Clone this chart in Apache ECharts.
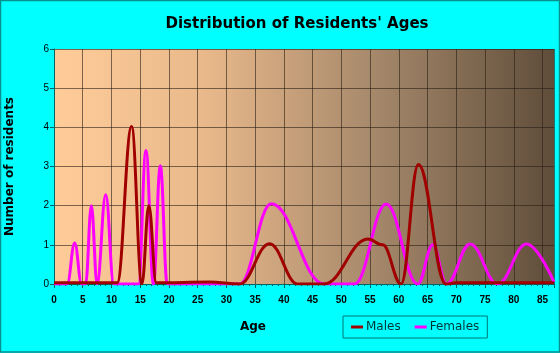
<!DOCTYPE html>
<html>
<head>
<meta charset="utf-8">
<script src="https://cdn.jsdelivr.net/npm/echarts@6/dist/echarts.min.js"></script>
<style>
  html, body { margin: 0; padding: 0; background: #00ffff; }
  #chart { width: 560px; height: 353px; }
</style>
</head>
<body>
<div id="chart"></div>
<script>
// age, residents  (peaks and troughs)
var males = [
    [0, 0.03], [11, 0.03], [13.5, 4.02], [15.3, 0], [16.5, 2.0], [17.8, 0.03],
    [27, 0.05], [32.3, 0], [37.5, 1.03], [42.4, 0], [47, 0], [54.6, 1.15],
    [57.2, 1.0], [60.4, 0], [63.4, 3.05], [68.2, 0], [70, 0.03], [87, 0.03]
]
var females = [
    [0, 0], [2.3, 0], [3.6, 1.05], [4.8, 0], [5.5, 0], [6.5, 2.0], [7.5, 0],
    [9.0, 2.28], [10.4, 0], [14.7, 0], [16.0, 3.41], [17.3, 0], [18.5, 3.02],
    [19.7, 0], [32.3, 0], [37.8, 2.05], [47, 0], [52.3, 0], [57.8, 2.04],
    [63.3, 0], [65.9, 1.0], [68.3, 0], [72.4, 1.02], [77.2, 0], [82.2, 1.02],
    [87, 0.05]
]
var seriesNames = ['Males', 'Females']

var Chart = echarts.init(document.getElementById('chart'))
var option = {
    backgroundColor: '#00ffff',
    animation: false,
    title: [
        {
            text: "Distribution of Residents' Ages",
            left: 292,
            top: 12,
            textAlign: 'center',
            textStyle: { fontFamily: 'DejaVu Sans', fontSize: 15, fontWeight: 'bold', color: '#000' }
        },
        {
            text: 'Age',
            left: 248,
            top: 316,
            textAlign: 'center',
            textStyle: { fontFamily: 'DejaVu Sans', fontSize: 12, fontWeight: 'bold', color: '#000' }
        }
    ],
    graphic: [{
        type: 'rect',
        shape: { x: 0.5, y: 0.5, width: 559, height: 351.5 },
        style: { fill: 'none', stroke: '#0a8f8f', lineWidth: 1.5 },
        silent: true
    }],
    grid: {
        left: 54,
        right: 6,
        top: 49,
        bottom: 69,
        outerBoundsMode: 'none',
        show: true,
        borderWidth: 0,
        backgroundColor: {
            type: 'linear', x: 0, y: 0, x2: 1, y2: 0,
            colorStops: [
                { offset: 0, color: '#ffcc99' },
                { offset: 0.3, color: '#e9b98b' },
                { offset: 0.65, color: '#a4876a' },
                { offset: 1, color: '#5f4d3a' }
            ]
        }
    },
    legend: {
        data: seriesNames,
        left: 343,
        top: 316,
        width: 144,
        height: 23,
        padding: [5, 8, 5, 8],
        borderColor: '#007777',
        borderWidth: 1,
        icon: 'rect',
        itemWidth: 12,
        itemHeight: 3,
        itemGap: 14,
        textStyle: { fontFamily: 'DejaVu Sans', fontSize: 12, color: '#003333', padding: [0, 0, 0, -2] }
    },
    xAxis: {
        type: 'value',
        min: 0,
        max: 87,
        interval: 5,
        axisLine: { show: true, lineStyle: { color: '#006666' } },
        axisTick: { show: true, length: 4, lineStyle: { color: '#006666' } },
        minorTick: { show: true, splitNumber: 5, length: 2, lineStyle: { color: '#006666' } },
        axisLabel: {
            fontFamily: 'Liberation Sans', fontSize: 10, fontWeight: 'bold', color: '#000',
            margin: 11, showMaxLabel: false
        },
        splitLine: { show: true, lineStyle: { color: 'rgba(40,30,20,0.6)', width: 1 } }
    },
    yAxis: {
        type: 'value',
        min: 0,
        max: 6,
        interval: 1,
        name: 'Number of residents',
        nameLocation: 'middle',
        nameGap: 38,
        nameTextStyle: { fontFamily: 'DejaVu Sans', fontSize: 12, fontWeight: 'bold', color: '#000' },
        axisLine: { show: true, lineStyle: { color: '#006666' } },
        axisTick: { show: true, length: 4, lineStyle: { color: '#006666' } },
        axisLabel: { fontFamily: 'Liberation Sans', fontSize: 10, color: '#000', margin: 5 },
        splitLine: { show: true, lineStyle: { color: 'rgba(40,30,20,0.6)', width: 1 } }
    },
    series: [
        {
            name: seriesNames[0],
            type: 'line',
            data: males,
            smooth: 0.4,
            smoothMonotone: 'x',
            showSymbol: false,
            color: '#a00000',
            lineStyle: { width: 3, color: '#a00000' },
            z: 3
        },
        {
            name: seriesNames[1],
            type: 'line',
            data: females,
            smooth: 0.4,
            smoothMonotone: 'x',
            showSymbol: false,
            color: '#ff00ff',
            lineStyle: { width: 3, color: '#ff00ff' },
            z: 2
        }
    ]
}
Chart.setOption(option)
</script>
</body>
</html>
